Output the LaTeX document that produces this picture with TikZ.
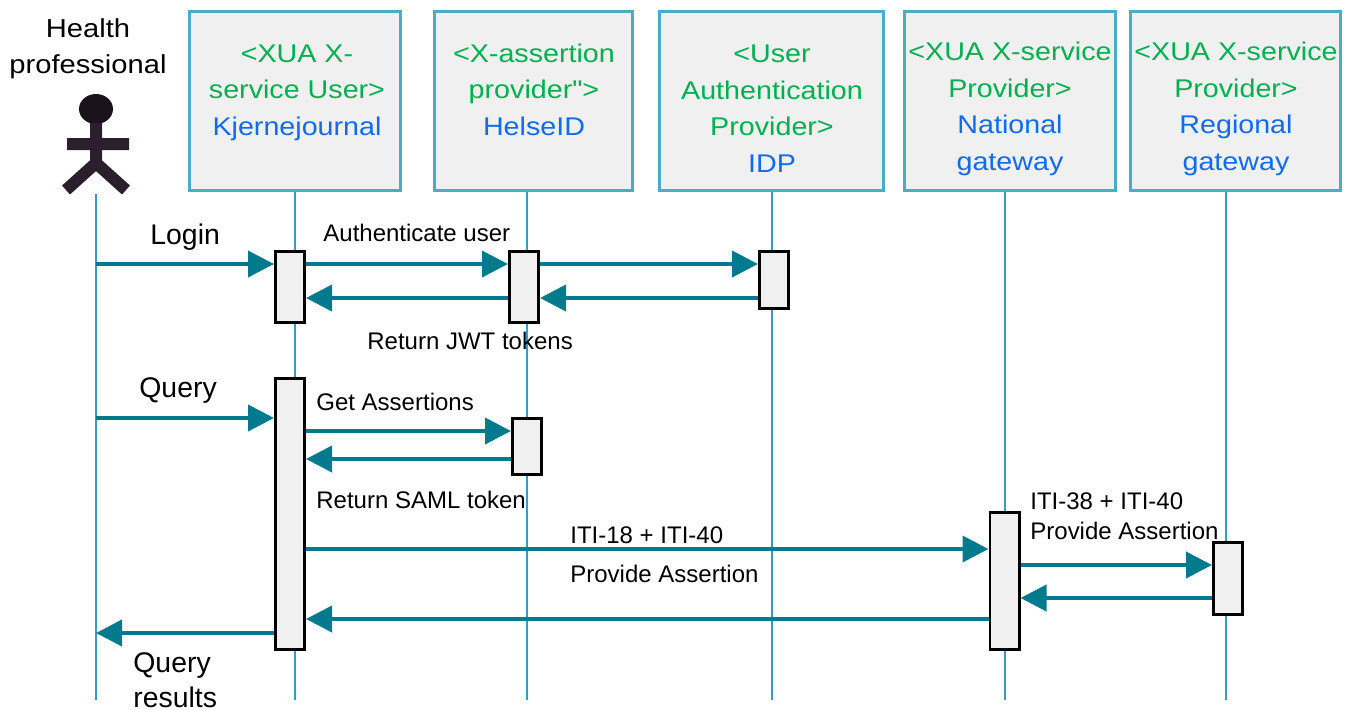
\documentclass[tikz,border=0pt]{standalone}
\usepackage{fontspec}
\setmainfont{Liberation Sans}
\newfontfamily\hdrfont[FakeStretch=1.12]{Liberation Sans}
\usepackage{tikz}
\usetikzlibrary{shapes,arrows.meta}
\definecolor{hdrgreen}{RGB}{0,176,80}
\definecolor{hdrblue}{RGB}{16,108,236}
\definecolor{msgteal}{RGB}{0,122,140}
\definecolor{hdrline}{RGB}{75,172,198}
\definecolor{lifecol}{RGB}{60,155,185}
\definecolor{boxfill}{RGB}{240,240,240}
\definecolor{actorcol}{RGB}{43,31,46}
\tikzstyle{header} = [rectangle, draw=hdrline, line width=1.5pt, fill=boxfill, minimum height=89.5pt]
\tikzstyle{hdrtext} = [align=center, inner sep=0pt, anchor=base, font=\hdrfont\fontsize{12.8}{18.2}\selectfont]
\tikzstyle{act} = [rectangle, draw=black, line width=1.3pt, fill=boxfill, minimum width=14.7pt]
\tikzstyle{msg} = [line width=2pt, draw=msgteal, -{Triangle[length=13pt,width=13pt]}]
\tikzstyle{life} = [draw=lifecol, line width=0.9pt]
\tikzstyle{msgtext} = [inner sep=0pt, anchor=base west, font=\fontsize{12}{15}\selectfont]
\tikzstyle{bigtext} = [inner sep=0pt, anchor=base west, font=\fontsize{14.2}{17.5}\selectfont]
\newcommand{\grn}[1]{\textcolor{hdrgreen}{#1}}
\newcommand{\blu}[1]{\textcolor{hdrblue}{#1}}

\begin{document}
\begin{tikzpicture}[x=0.5pt, y=-0.5pt]
    \useasboundingbox (0,0) rectangle (1357,709);

    % actor
    \fill[actorcol!60!black] (96,109) ellipse [x radius=17, y radius=15];
    \draw[actorcol, line width=6pt] (96,123) -- (96,165) (67,144) -- (129,144) (66,190) -- (96,163) -- (126,190);
    \node (hp) [hdrtext, font=\hdrfont\fontsize{13}{18}\selectfont] at (88,73) {Health\\professional};

    % headers
    \node (kjh) [header, minimum width=105.5pt] at (295,101) {};
    \node (hidh) [header, minimum width=99pt] at (533.5,101) {};
    \node (idph) [header, minimum width=112pt] at (771.5,101) {};
    \node (nath) [header, minimum width=105.5pt] at (1010,101) {};
    \node (regh) [header, minimum width=105pt] at (1235.5,101) {};

    \node (kjt) [hdrtext] at (297,135) {\grn{<XUA X-}\\\grn{service User>}\\\blu{Kjernejournal}};
    \node (hidt) [hdrtext] at (534,135) {\grn{<X-assertion}\\\grn{provider">}\\\blu{HelseID}};
    \node (idpt) [hdrtext] at (772,172) {\grn{<User}\\\grn{Authentication}\\\grn{Provider>}\\\blu{IDP}};
    \node (natt) [hdrtext] at (1010,170) {\grn{<XUA X-service}\\\grn{Provider>}\\\blu{National}\\\blu{gateway}};
    \node (regt) [hdrtext] at (1236,170) {\grn{<XUA X-service}\\\grn{Provider>}\\\blu{Regional}\\\blu{gateway}};

    % lifelines
    \coordinate (hpl) at (96,700);
    \coordinate (kjl) at (295,700);
    \coordinate (hidl) at (527,700);
    \coordinate (idpl) at (772,700);
    \coordinate (natl) at (1005,700);
    \coordinate (regl) at (1226,700);
    \draw[life] (96,194) -- (hpl);
    \draw[life] (kjh.south -| kjl) -- (kjl);
    \draw[life] (hidh.south -| hidl) -- (hidl);
    \draw[life] (idph.south -| idpl) -- (idpl);
    \draw[life] (nath.south -| natl) -- (natl);
    \draw[life] (regh.south -| regl) -- (regl);

    % activations
    \node (kja) [act, minimum height=35.7pt] at (290,287) {};
    \node (hida) [act, minimum height=35.7pt] at (524,287) {};
    \node (idpa) [act, minimum height=28.7pt] at (774,280) {};
    \node (kjb) [act, minimum height=135.7pt] at (290,514) {};
    \node (hidb) [act, minimum height=28.2pt] at (527,446.5) {};
    \node (nata) [act, minimum height=68.7pt] at (1004.5,581) {};
    \node (rega) [act, minimum height=36.2pt] at (1228,578.5) {};

    % message rows
    \coordinate (r1) at (96,264);
    \coordinate (r2) at (96,298);
    \coordinate (r3) at (96,418);
    \coordinate (r4) at (96,431);
    \coordinate (r5) at (96,459);
    \coordinate (r6) at (96,549);
    \coordinate (r7) at (96,565);
    \coordinate (r8) at (96,598);
    \coordinate (r9) at (96,619);
    \coordinate (r10) at (96,633);

    \draw[msg] (r1) -- (kja.west |- r1);
    \draw[msg] (kja.east |- r1) -- (hida.west |- r1);
    \draw[msg] (hida.east |- r1) -- (idpa.west |- r1);
    \draw[msg] (idpa.west |- r2) -- (hida.east |- r2);
    \draw[msg] (hida.west |- r2) -- (kja.east |- r2);
    \draw[msg] (r3) -- (kjb.west |- r3);
    \draw[msg] (kjb.east |- r4) -- (hidb.west |- r4);
    \draw[msg] (hidb.west |- r5) -- (kjb.east |- r5);
    \draw[msg] (kjb.east |- r6) -- (nata.west |- r6);
    \draw[msg] (nata.east |- r7) -- (rega.west |- r7);
    \draw[msg] (rega.west |- r8) -- (nata.east |- r8);
    \draw[msg] (nata.west |- r9) -- (kjb.east |- r9);
    \draw[msg] (kjb.west |- r10) -- (r10);

    % labels
    \node (login) [bigtext] at (150,244) {Login};
    \node (auth) [msgtext] at (323,241) {Authenticate user};
    \node (jwt) [msgtext] at (367,349) {Return JWT tokens};
    \node (query) [bigtext] at (139,397) {Query};
    \node (getas) [msgtext] at (316,410) {Get Assertions};
    \node (saml) [msgtext] at (316,508) {Return SAML token};
    \node (iti18) [msgtext] at (570,543) {ITI-18 + ITI-40};
    \node (prov) [msgtext] at (570,582) {Provide Assertion};
    \node (iti38) [msgtext, align=left] at (1030,539) {ITI-38 + ITI-40\\Provide Assertion};
    \node (qres) [bigtext, align=left] at (133,707) {Query\\results};

\end{tikzpicture}
\end{document}
